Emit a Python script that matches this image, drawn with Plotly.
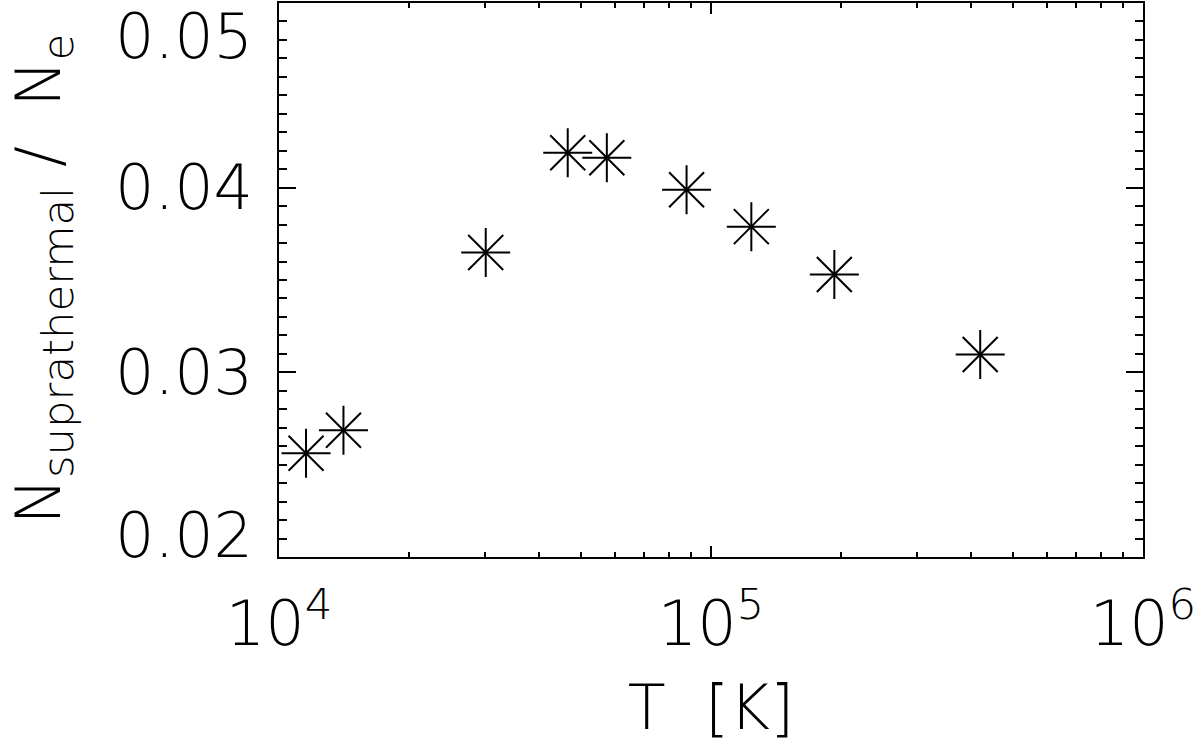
import plotly.graph_objects as go

# temperature [K] and suprathermal electron fraction
temperature = [1.155e4, 1.41e4, 3.01e4, 4.66e4, 5.74e4, 8.78e4, 1.24e5, 1.93e5, 4.2e5]
fraction = [0.02562, 0.02686, 0.03649, 0.04189, 0.04162, 0.03989, 0.03789, 0.0353, 0.03097]

x_ticks = [1e4, 1e5, 1e6]
x_ticktext = ["10<sup>4</sup>", "10<sup>5</sup>", "10<sup>6</sup>"]
y_ticks = [0.02, 0.03, 0.04, 0.05]
y_ticktext = ["0.02", "0.03", "0.04", "0.05"]

FONT = "DejaVu Sans"
W, H = 1200, 755
L, R, T, B = 279, 57, 3, 198

fig = go.Figure()

# IDL-style asterisk = thin cross + thin x drawn on top of each other
for sym in ["cross-thin", "x-thin"]:
    fig.add_trace(go.Scatter(
        x=temperature, y=fraction, mode="markers",
        marker=dict(symbol=sym, size=35, color="black",
                    line=dict(color="black", width=2)),
        showlegend=False, hoverinfo="x+y"
    ))

fig.update_xaxes(
    type="log", range=[4, 6.0001],
    tickvals=x_ticks, ticktext=x_ticktext,
    showgrid=False, zeroline=False,
    showline=True, linecolor="black", linewidth=2, mirror="allticks",
    ticks="inside", ticklen=11, tickwidth=2, tickcolor="black",
    minor=dict(ticks="inside", ticklen=5, tickwidth=2, tickcolor="black",
               dtick="D1", showgrid=False),
    tickfont=dict(family=FONT, size=62, color="black", weight=200),
    ticklabelstandoff=12,
    title=dict(text="T  [K]", font=dict(family=FONT, size=62, color="black", weight=200),
               standoff=26),
)

fig.update_yaxes(
    range=[0.019999, 0.050001],
    tickvals=y_ticks, showticklabels=False,
    showgrid=False, zeroline=False,
    showline=True, linecolor="black", linewidth=2, mirror="allticks",
    ticks="inside", ticklen=17, tickwidth=2, tickcolor="black",
    minor=dict(ticks="inside", ticklen=8, tickwidth=2, tickcolor="black",
               dtick=0.001, tick0=0, showgrid=False),
)

# y tick labels: the end labels are pulled inside the frame, as in the IDL original
for i, (val, txt) in enumerate(zip(y_ticks, y_ticktext)):
    shift = 0
    if i == 0:
        shift = 21
    elif i == len(y_ticks) - 1:
        shift = -33
    fig.add_annotation(
        text=txt, showarrow=False, borderpad=0,
        xref="paper", x=0, xanchor="right", xshift=-25,
        yref="y", y=val, yanchor="middle", yshift=shift,
        font=dict(family=FONT, size=62, color="black", weight=200),
    )

# y title as a rotated annotation
fig.add_annotation(
    text="N<sub>suprathermal</sub> /  N<sub>e</sub>",
    textangle=-90, showarrow=False, borderpad=0,
    xref="paper", yref="paper",
    x=(0 - L) / (W - L - R), xanchor="left",
    y=1 - (279 - T) / (H - T - B), yanchor="middle",
    font=dict(family=FONT, size=62, color="black", weight=200),
)

fig.update_layout(
    width=W, height=H,
    margin=dict(l=L, r=R, t=T, b=B, autoexpand=False),
    plot_bgcolor="white", paper_bgcolor="white",
    font=dict(family=FONT, color="black"),
)

fig.write_html("out.html", config={"displayModeBar": False},
               post_script="document.body.style.margin='0';")
